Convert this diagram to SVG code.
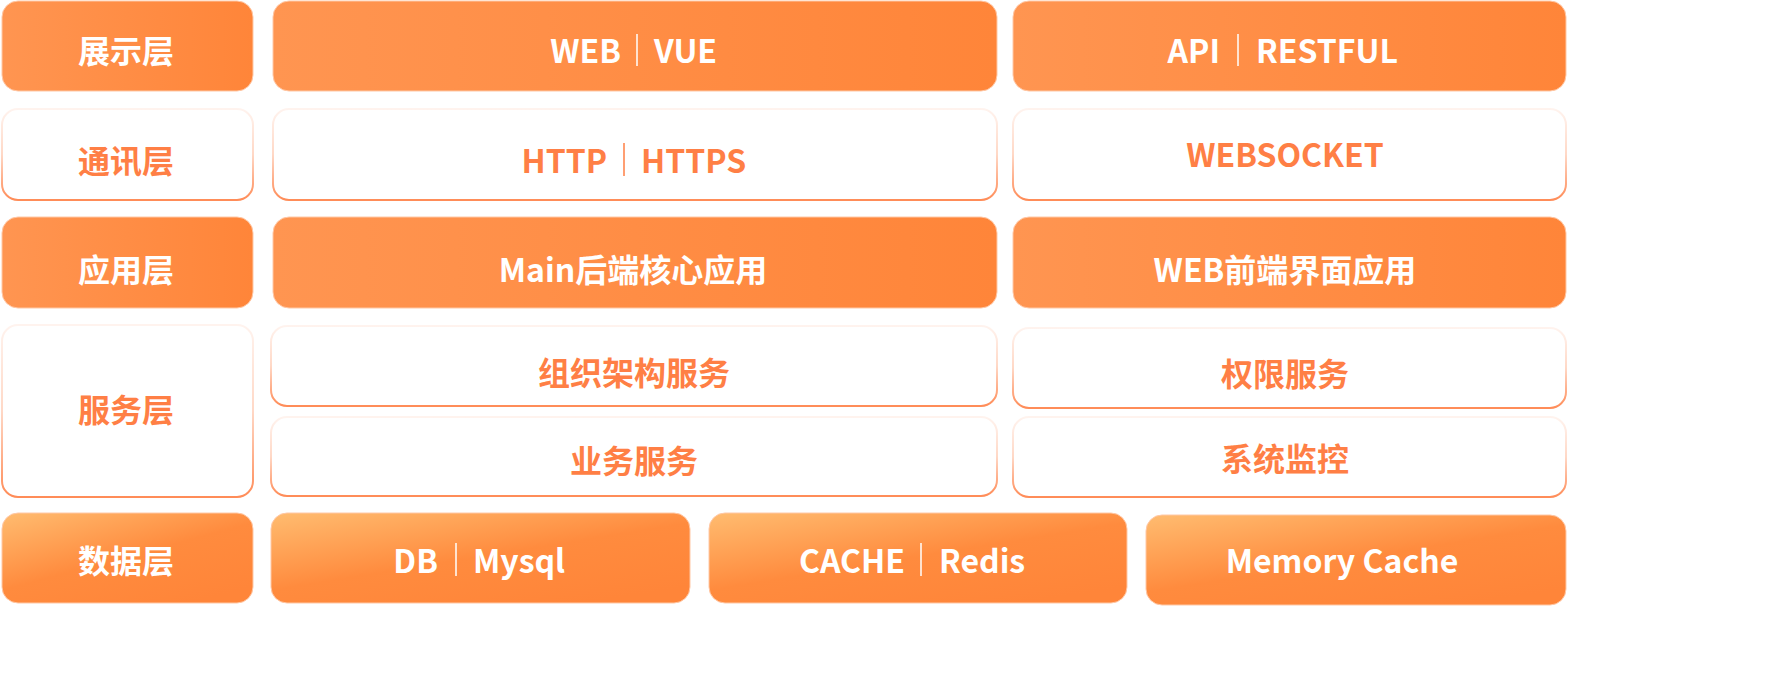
<svg xmlns="http://www.w3.org/2000/svg" width="1774" height="687" viewBox="0 0 1774 687">
<defs>
<linearGradient id="gOr" x1="0" y1="0" x2="1" y2="0">
<stop offset="0" stop-color="#FF9551"/>
<stop offset="1" stop-color="#FF8539"/>
</linearGradient>
<linearGradient id="gData" x1="0" y1="0" x2="0.75" y2="1">
<stop offset="0" stop-color="#FFBC70"/>
<stop offset="0.55" stop-color="#FF8B3E"/>
<stop offset="1" stop-color="#FF8539"/>
</linearGradient>
<linearGradient id="gLine" x1="0" y1="0" x2="0" y2="1">
<stop offset="0" stop-color="#FFF3EE"/>
<stop offset="0.5" stop-color="#FFD8C6"/>
<stop offset="1" stop-color="#FF8C58"/>
</linearGradient>
</defs>
<style>
.or{fill:url(#gOr);stroke:#FFC8A6;stroke-width:1}
.dt{fill:url(#gData);stroke:#FFC8A6;stroke-width:1}
.wh{fill:#FFFFFF;stroke:url(#gLine);stroke-width:2}
text{font-family:"Noto Sans CJK SC","Noto Sans",sans-serif;font-weight:700;font-size:32px;dominant-baseline:central}
.w{fill:#FFFFFF}
.o{fill:#FF7F45}
.c{text-anchor:middle}
.e{text-anchor:end}
.sep{stroke-width:1.5}
.sw{stroke:#FFFFFF}
.so{stroke:#FF7F45}
</style>
<rect width="1774" height="687" fill="#FFFFFF"/>

<g id="row-display">
<g id="n-display"><rect class="or" x="2" y="1" width="251" height="90" rx="16"/><text class="w c" x="126" y="49">展示层</text></g>
<g id="n-web-vue"><rect class="or" x="273" y="1" width="724" height="90" rx="16"/><text class="w e" x="621" y="49">WEB</text><line class="sep sw" x1="637" y1="34" x2="637" y2="66"/><text class="w" x="654" y="49">VUE</text></g>
<g id="n-api"><rect class="or" x="1013" y="1" width="553" height="90" rx="16"/><text class="w e" x="1220" y="49">API</text><line class="sep sw" x1="1238" y1="34" x2="1238" y2="66"/><text class="w" x="1256" y="49">RESTFUL</text></g>
</g>

<g id="row-comm">
<g id="n-comm"><rect class="wh" x="2" y="109" width="251" height="91" rx="16"/><text class="o c" x="126" y="159">通讯层</text></g>
<g id="n-http"><rect class="wh" x="273" y="109" width="724" height="91" rx="16"/><text class="o e" x="607" y="159">HTTP</text><line class="sep so" x1="624" y1="143" x2="624" y2="176"/><text class="o" x="641" y="159">HTTPS</text></g>
<g id="n-ws"><rect class="wh" x="1013" y="109" width="553" height="91" rx="16"/><text class="o c" x="1285" y="153">WEBSOCKET</text></g>
</g>

<g id="row-app">
<g id="n-app"><rect class="or" x="2" y="217" width="251" height="91" rx="16"/><text class="w c" x="126" y="268">应用层</text></g>
<g id="n-main"><rect class="or" x="273" y="217" width="724" height="91" rx="16"/><text class="w c" x="633" y="268">Main后端核心应用</text></g>
<g id="n-webfe"><rect class="or" x="1013" y="217" width="553" height="91" rx="16"/><text class="w c" x="1285" y="268">WEB前端界面应用</text></g>
</g>

<g id="row-service">
<g id="n-service"><rect class="wh" x="2" y="325" width="251" height="172" rx="16"/><text class="o c" x="126" y="408">服务层</text></g>
<g id="n-org"><rect class="wh" x="271" y="326" width="726" height="80" rx="16"/><text class="o c" x="634" y="371">组织架构服务</text></g>
<g id="n-perm"><rect class="wh" x="1013" y="328" width="553" height="80" rx="16"/><text class="o c" x="1285" y="372">权限服务</text></g>
<g id="n-biz"><rect class="wh" x="271" y="417" width="726" height="79" rx="16"/><text class="o c" x="634" y="459">业务服务</text></g>
<g id="n-mon"><rect class="wh" x="1013" y="417" width="553" height="80" rx="16"/><text class="o c" x="1285" y="457">系统监控</text></g>
</g>

<g id="row-data">
<g id="n-data"><rect class="dt" x="2" y="513" width="251" height="90" rx="16"/><text class="w c" x="126" y="559">数据层</text></g>
<g id="n-db"><rect class="dt" x="271" y="513" width="419" height="90" rx="16"/><text class="w e" x="438" y="559">DB</text><line class="sep sw" x1="456" y1="543" x2="456" y2="576"/><text class="w" x="473" y="559">Mysql</text></g>
<g id="n-cache"><rect class="dt" x="709" y="513" width="418" height="90" rx="16"/><text class="w e" x="905" y="559">CACHE</text><line class="sep sw" x1="921" y1="543" x2="921" y2="576"/><text class="w" x="939" y="559">Redis</text></g>
<g id="n-mem"><rect class="dt" x="1146" y="515" width="420" height="90" rx="16"/><text class="w c" x="1342" y="559">Memory Cache</text></g>
</g>

<g id="connectors"></g>
</svg>
